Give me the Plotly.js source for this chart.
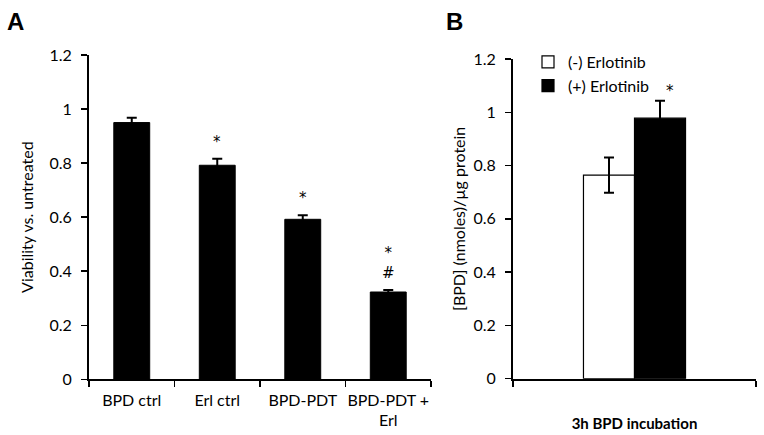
<!DOCTYPE html>
<html>
<head>
<meta charset="utf-8">
<script src="https://cdn.plot.ly/plotly-3.0.1.min.js"></script>
<style>html,body{margin:0;padding:0;background:#fff;}#chart{width:764px;height:435px;}</style>
</head>
<body>
<div id="chart"></div>
<script>
// Panel A data
const catsA = ["BPD ctrl", "Erl ctrl", "BPD-PDT", "BPD-PDT +<br>Erl"];
const valsA = [0.95, 0.792, 0.592, 0.323];
const errA = [0.018, 0.024, 0.015, 0.007];
const sigA = ["", "*", "*", "*<br>#"];
// Panel B data
const catB = ["3h BPD incubation"];
const seriesB = ["(-) Erlotinib", "(+) Erlotinib"];
const valsB = [0.764, 0.978];
const errB = [0.066, 0.065];
const sigB = ["", "*"];

const FONT = "Lato, 'Open Sans', sans-serif";
const SIGFONT = "'DejaVu Sans', sans-serif";
const FS = 16;
const W = 764, H = 435;
const px = v => v / W, py = v => 1 - v / H;

const traces = [
  {
    type: "bar", x: catsA, y: valsA, xaxis: "x", yaxis: "y",
    marker: {color: "#000", line: {color: "#000", width: 1}},
    error_y: {type: "data", array: errA, visible: true, color: "#000", thickness: 2, width: 5},
    showlegend: false, hoverinfo: "skip"
  },
  {
    type: "bar", x: catB, y: [valsB[0]], name: seriesB[0], xaxis: "x2", yaxis: "y2",
    marker: {color: "#fff", line: {color: "#000", width: 1.2}},
    error_y: {type: "data", array: [errB[0]], visible: true, color: "#000", thickness: 2, width: 5}
  },
  {
    type: "bar", x: catB, y: [valsB[1]], name: seriesB[1], xaxis: "x2", yaxis: "y2",
    marker: {color: "#000", line: {color: "#000", width: 1.2}},
    error_y: {type: "data", array: [errB[1]], visible: true, color: "#000", thickness: 2, width: 5}
  }
];

const annotations = [];
catsA.forEach((c, i) => {
  if (sigA[i]) annotations.push({
    xref: "x", yref: "y", x: c, y: valsA[i] + errA[i], yshift: 6, text: sigA[i],
    showarrow: false, yanchor: "bottom", font: {family: SIGFONT, size: 15, color: "#000"}
  });
});
sigB.forEach((s, i) => {
  if (s) annotations.push({
    xref: "x2", yref: "y2", x: catB[0], xshift: (i === 0 ? -35 : 35), y: valsB[i] + errB[i], yshift: -1, text: s,
    showarrow: false, yanchor: "bottom", font: {family: SIGFONT, size: 15, color: "#000"}
  });
});
annotations.push({xref: "paper", yref: "paper", x: px(5), y: py(6), xanchor: "left", yanchor: "top",
  text: "<b>A</b>", showarrow: false, font: {family: "'Liberation Sans', Arial, sans-serif", size: 24, color: "#000"}});
annotations.push({xref: "paper", yref: "paper", x: px(444), y: py(6), xanchor: "left", yanchor: "top",
  text: "<b>B</b>", showarrow: false, font: {family: "'Liberation Sans', Arial, sans-serif", size: 24, color: "#000"}});

const axisCommon = {
  showline: true, linecolor: "#000", linewidth: 2, showgrid: false, zeroline: false,
  ticks: "outside", ticklen: 6, tickwidth: 1.5, tickcolor: "#000",
  tickfont: {family: FONT, size: FS, color: "#000"}, fixedrange: true
};

const layout = {
  width: W, height: H,
  margin: {l: 0, r: 0, t: 0, b: 0},
  paper_bgcolor: "#fff", plot_bgcolor: "#fff",
  font: {family: FONT, size: FS, color: "#000"},
  bargap: 0.58, barmode: "group",
  xaxis: Object.assign({}, axisCommon, {
    domain: [px(89), px(431)], anchor: "y", type: "category", range: [-0.5, 3.5],
    tickson: "boundaries", ticklabelstandoff: 5, tickangle: 0
  }),
  yaxis: Object.assign({}, axisCommon, {
    domain: [py(379.3), py(55)], anchor: "x", range: [0, 1.2], dtick: 0.2, tick0: 0,
    ticklabelstandoff: 6,
    title: {text: "Viability vs. untreated", font: {family: FONT, size: FS, color: "#000"}, standoff: 12}
  }),
  xaxis2: Object.assign({}, axisCommon, {
    domain: [px(513), px(756)], anchor: "y2", type: "category", range: [-0.5, 0.5],
    tickson: "boundaries", showticklabels: false,
    title: {text: "<b>3h BPD incubation</b>", font: {family: FONT, size: 15, color: "#000"}, standoff: 39}
  }),
  yaxis2: Object.assign({}, axisCommon, {
    domain: [py(378.7), py(59)], anchor: "x2", range: [0, 1.2], dtick: 0.2, tick0: 0,
    ticklabelstandoff: 6,
    title: {text: "[BPD] (nmoles)/µg protein", font: {family: FONT, size: FS, color: "#000"}, standoff: 4}
  }),
  showlegend: true,
  legend: {x: px(528), y: py(45), xanchor: "left", yanchor: "top", bgcolor: "rgba(0,0,0,0)",
    font: {family: FONT, size: FS, color: "#000"}, traceorder: "normal", tracegroupgap: 0, itemwidth: 30},
  annotations: annotations
};

Plotly.newPlot("chart", traces, layout, {displayModeBar: false, staticPlot: true});
</script>
</body>
</html>
